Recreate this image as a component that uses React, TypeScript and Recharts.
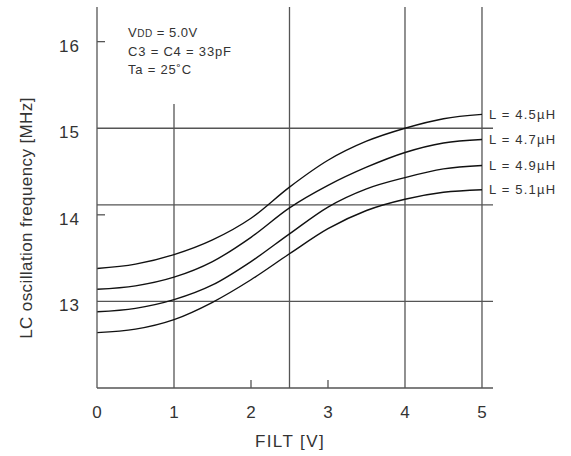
import React from "react";
import { LineChart, Line, XAxis, YAxis, ReferenceLine, LabelList, Label } from "recharts";

const filt = [0, 0.5, 1, 1.5, 2, 2.5, 3, 3.5, 4, 4.5, 5];
const l45 = [13.38, 13.43, 13.54, 13.71, 13.96, 14.32, 14.63, 14.85, 15.0, 15.11, 15.16];
const l47 = [13.14, 13.18, 13.28, 13.46, 13.74, 14.08, 14.34, 14.55, 14.72, 14.83, 14.87];
const l49 = [12.88, 12.92, 13.02, 13.19, 13.46, 13.78, 14.09, 14.3, 14.43, 14.53, 14.57];
const l51 = [12.64, 12.68, 12.79, 12.99, 13.25, 13.55, 13.84, 14.05, 14.18, 14.26, 14.29];

const seriesNames = ["L = 4.5µH", "L = 4.7µH", "L = 4.9µH", "L = 5.1µH"];
const xTicks = [0, 1, 2, 3, 4, 5];
const yTicks = [13, 14, 15, 16];
const fullVLines = [2.5, 4, 5];
const hLines = [13, 14.115, 15];

const data = filt.map((x, i) => ({ x, l45: l45[i], l47: l47[i], l49: l49[i], l51: l51[i] }));

const FONT = "'Liberation Sans', Arial, sans-serif";
const GRID = "#555";
const TXT = "#333";

const endLabel = (text: string) => (props: any) => {
  if (props.index !== filt.length - 1) return null;
  return (
    <text x={props.x + 7} y={props.y} dy={4.5} fontSize={13} letterSpacing={1.2} fill={TXT} fontFamily={FONT}>
      {text}
    </text>
  );
};

export default function App() {
  return (
    <div style={{ position: "absolute", left: 0, top: 0, background: "#fff" }}>
      <LineChart width={571} height={456} data={data} margin={{ top: 7, right: 78, left: 0, bottom: 0 }}>
        <XAxis
          dataKey="x"
          type="number"
          domain={[0, 5.143]}
          ticks={xTicks}
          allowDataOverflow
          tickLine={false}
          tickSize={0}
          tickMargin={18}
          height={68}
          stroke={GRID}
          strokeWidth={1.3}
          tick={{ fontSize: 17, fill: TXT, fontFamily: FONT }}
        >
          <Label value="FILT [V]" position="insideBottom" offset={9} dx={-5} fontSize={17} letterSpacing={1.4} fill={TXT} fontFamily={FONT} />
        </XAxis>
        <YAxis
          type="number"
          domain={[12, 16.4]}
          ticks={yTicks}
          allowDataOverflow
          tickLine={false}
          tickSize={0}
          tickMargin={17}
          width={97}
          stroke={GRID}
          strokeWidth={1.3}
          tick={{ fontSize: 17, fill: TXT, fontFamily: FONT, dy: 4, letterSpacing: 1 }}
        >
          <Label
            content={() => (
              <text transform="translate(32,218) rotate(-90)" textAnchor="middle" fontSize={17} letterSpacing={0.4} fill={TXT} fontFamily={FONT}>
                LC oscillation frequency [MHz]
              </text>
            )}
          />
        </YAxis>
        {hLines.map((y) => (
          <ReferenceLine key={"h" + y} y={y} stroke={GRID} strokeWidth={1.3} />
        ))}
        {fullVLines.map((x) => (
          <ReferenceLine key={"v" + x} x={x} stroke={GRID} strokeWidth={1.3} />
        ))}
        <ReferenceLine segment={[{ x: 1, y: 12 }, { x: 1, y: 15.28 }]} stroke={GRID} strokeWidth={1.3} />
        <ReferenceLine segment={[{ x: 2, y: 12 }, { x: 2, y: 12.092 }]} stroke={GRID} strokeWidth={1.3} />
        <ReferenceLine segment={[{ x: 3, y: 12 }, { x: 3, y: 12.092 }]} stroke={GRID} strokeWidth={1.3} />
        <ReferenceLine segment={[{ x: 0, y: 16 }, { x: 0.104, y: 16 }]} stroke={GRID} strokeWidth={1.3} />
        <ReferenceLine segment={[{ x: 0, y: 14 }, { x: 0.104, y: 14 }]} stroke={GRID} strokeWidth={1.3} />
        {["l45", "l47", "l49", "l51"].map((k, i) => (
          <Line key={k} dataKey={k} type="monotone" stroke="#111" strokeWidth={1.4} dot={false} isAnimationActive={false}>
            <LabelList dataKey={k} content={endLabel(seriesNames[i])} />
          </Line>
        ))}
        <text x={128} y={37} fontSize={13} letterSpacing={0.5} fill={TXT} fontFamily={FONT}>
          V<tspan fontSize={10}>DD</tspan> = 5.0V
        </text>
        <text x={128} y={56} fontSize={13} letterSpacing={0.8} fill={TXT} fontFamily={FONT}>
          C3 = C4 = 33pF
        </text>
        <text x={128} y={74} fontSize={13} letterSpacing={0.8} fill={TXT} fontFamily={FONT}>
          Ta = 25˚C
        </text>
      </LineChart>
    </div>
  );
}
